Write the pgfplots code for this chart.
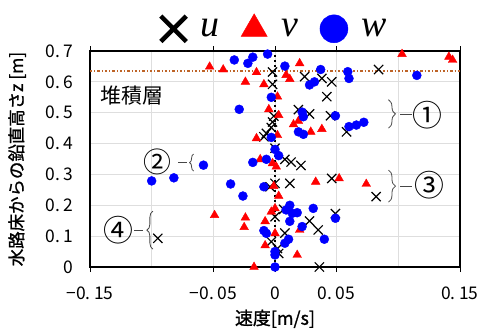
\documentclass[border=0pt]{standalone}
\usepackage{fontspec}
\usepackage{pgfplots}
\pgfplotsset{compat=1.18}
\usetikzlibrary{decorations.pathreplacing}
\newfontfamily\jp{Noto Sans CJK JP}
\newfontfamily\jpb{Noto Sans CJK JP}[FakeBold=1.2]
\newfontfamily\tms{Liberation Serif}
\definecolor{cu}{RGB}{0,0,0}
\definecolor{cv}{RGB}{255,0,0}
\definecolor{cw}{RGB}{0,0,255}
\definecolor{brn}{RGB}{190,100,40}
\definecolor{gridc}{RGB}{222,222,222}
\definecolor{anno}{RGB}{70,70,70}
\begin{document}
\begin{tikzpicture}
\useasboundingbox (-90bp,-67bp) rectangle (396bp,267bp);
\begin{axis}[
  at={(0,0)}, anchor=south west,
  width=370bp, height=216bp, scale only axis,
  xmin=-0.15, xmax=0.15, ymin=0, ymax=0.7,
  clip=false,
  axis line style={line width=1.3bp, black},
  xtick={-0.15,-0.05,0,0.05,0.15},
  xticklabels={−0.\hspace{0.2em}15,−0.\hspace{0.2em}05,0,0.\hspace{0.2em}05,0.\hspace{0.2em}15},
  minor xtick={-0.1,0.1},
  ytick={0,0.1,0.2,0.3,0.4,0.5,0.6,0.7},
  yticklabels={0,0.\hspace{0.2em}1,0.\hspace{0.2em}2,0.\hspace{0.2em}3,0.\hspace{0.2em}4,0.\hspace{0.2em}5,0.\hspace{0.2em}6,0.\hspace{0.2em}7},
  grid=both,
  major grid style={gridc, line width=0.8bp},
  minor grid style={gridc, line width=0.8bp},
  tick align=outside,
  major tick length=5bp, minor tick length=0bp,
  xtick style={black, line width=0.8bp},
  ytick style={draw=none},
  ticklabel style={font=\jp\fontsize{17.5}{17.5}\selectfont},
  xticklabel style={yshift=-11bp},
  yticklabel style={xshift=-8bp},
  xlabel={\jpb\fontsize{18}{18}\selectfont 速度[m/s]},
  ylabel={\jpb\fontsize{17.5}{17.5}\selectfont 水路床からの鉛直高さz [m]},
  xlabel style={at={(axis description cs:0.5,-0.24)}, anchor=center},
  ylabel style={at={(axis description cs:-0.197,0.5)}, anchor=center},
  legend style={at={(axis description cs:0.5,1)}, anchor=south, yshift=6bp, xshift=0bp,
    draw=none, fill=none, legend columns=3,
    font=\tms\itshape\fontsize{38}{38}\selectfont,
    /tikz/every odd column/.append style={column sep=12bp},
    /tikz/every even column/.append style={column sep=20bp}},
]
\addlegendimage{only marks, mark=x, mark size=18bp, line width=4.5bp, cu}
\addlegendentry{u}
\addlegendimage{only marks, mark=triangle*, mark size=15bp, cv, draw=cv}
\addlegendentry{v}
\addlegendimage{only marks, mark=*, mark size=14bp, cw, draw=cw}
\addlegendentry{w}

% reference line (top of sediment layer)
\addplot[forget plot, brn, line width=1.6bp, dash pattern=on 2.5bp off 2bp on 1bp off 2bp] coordinates {(-0.15,0.635) (0.15,0.635)};

% u
\addplot[forget plot, only marks, mark=x, mark size=6.5bp, line width=1.2bp, cu] coordinates {
(-0.002,0.632) (-0.002,0.592) (0.024,0.617) (0.038,0.611) (0.046,0.600) (0.042,0.552)
(0.084,0.640) (0.019,0.510) (0.028,0.496) (0.045,0.490) (0.058,0.438) (-0.001,0.489)
(-0.002,0.470) (-0.003,0.452) (-0.009,0.422) (-0.007,0.433) (0.000,0.385) (0.008,0.349)
(0.013,0.340) (0.021,0.329) (0.000,0.271) (0.012,0.271) (-0.004,0.260) (0.046,0.287)
(0.082,0.228) (0.007,0.187) (0.000,0.163) (0.028,0.149) (0.035,0.120) (0.049,0.173)
(0.008,0.110) (-0.003,0.082) (0.003,0.044) (0.002,0.060) (0.036,0.000) (-0.095,0.093)
};

% v
\addplot[forget plot, only marks, mark=triangle*, mark size=5bp, cv, draw=cv] coordinates {
(-0.053,0.649) (-0.042,0.640) (-0.015,0.631) (-0.024,0.600) (-0.009,0.592) (0.009,0.622)
(0.012,0.609) (0.020,0.660) (0.103,0.690) (0.141,0.681) (0.144,0.671) (0.002,0.552)
(-0.005,0.511) (0.003,0.492) (0.015,0.462) (0.019,0.473) (0.029,0.438) (0.038,0.447)
(-0.015,0.417) (0.002,0.427) (-0.012,0.349) (-0.002,0.336) (0.001,0.325) (0.003,0.230)
(0.000,0.190) (-0.003,0.179) (-0.049,0.168) (-0.024,0.160) (-0.025,0.129) (-0.008,0.148)
(0.000,0.109) (-0.008,0.070) (0.018,0.039) (-0.017,0.000) (0.033,0.276) (0.052,0.287)
(0.074,0.269) (0.020,0.120) (-0.001,0.262)
};

% w
\addplot[forget plot, only marks, mark=*, mark size=4.5bp, cw, draw=cw] coordinates {
(-0.033,0.671) (-0.022,0.660) (-0.018,0.680) (-0.006,0.690) (0.008,0.651) (0.037,0.640)
(0.059,0.633) (0.060,0.611) (0.028,0.590) (0.032,0.600) (0.115,0.621) (-0.003,0.550)
(-0.029,0.511) (0.022,0.502) (0.023,0.487) (0.049,0.490) (0.060,0.455) (0.066,0.460)
(0.072,0.469) (0.019,0.438) (0.023,0.430) (-0.003,0.420) (0.000,0.381) (0.003,0.361)
(-0.007,0.349) (-0.018,0.339) (-0.058,0.330) (-0.082,0.289) (-0.100,0.279) (-0.036,0.269)
(-0.026,0.230) (-0.009,0.260) (0.012,0.200) (0.014,0.174) (0.009,0.185) (0.018,0.176)
(0.012,0.148) (0.022,0.131) (-0.009,0.118) (-0.007,0.109) (0.011,0.090) (0.008,0.077)
(0.000,0.050) (0.000,0.039) (0.000,0.000) (0.031,0.190) (0.049,0.158) (0.040,0.090)
};

% zero line
\addplot[forget plot, black, line width=2bp, dash pattern=on 2bp off 3bp] coordinates {(0,0) (0,0.7)};

\node[font=\jp\fontsize{21}{21}\selectfont] at (axis cs:-0.116,0.557) {堆積層};

% annotations
\draw[anno, line width=0.8bp, decorate, decoration={brace, amplitude=7bp}] (axis cs:0.092,0.542) -- (axis cs:0.092,0.450);
\draw[anno, line width=0.8bp] (axis cs:0.1015,0.496) -- (axis cs:0.111,0.496);
\node[font=\jp\fontsize{30}{30}\selectfont, inner sep=0pt] at (axis cs:0.124,0.493) {①};

\draw[anno, line width=0.8bp, decorate, decoration={brace, amplitude=7bp}] (axis cs:0.092,0.314) -- (axis cs:0.092,0.210);
\draw[anno, line width=0.8bp] (axis cs:0.1015,0.262) -- (axis cs:0.111,0.262);
\node[font=\jp\fontsize{30}{30}\selectfont, inner sep=0pt] at (axis cs:0.125,0.265) {③};

\draw[anno, line width=0.8bp, decorate, decoration={brace, amplitude=4bp}] (axis cs:-0.066,0.311) -- (axis cs:-0.066,0.366);
\draw[anno, line width=0.8bp] (axis cs:-0.0785,0.3385) -- (axis cs:-0.0715,0.3385);
\node[font=\jp\fontsize{28}{28}\selectfont, inner sep=0pt] at (axis cs:-0.095,0.340) {②};

\draw[anno, line width=0.8bp, decorate, decoration={brace, amplitude=6bp}] (axis cs:-0.099,0.058) -- (axis cs:-0.099,0.181);
\draw[anno, line width=0.8bp] (axis cs:-0.114,0.1195) -- (axis cs:-0.107,0.1195);
\node[font=\jp\fontsize{30}{30}\selectfont, inner sep=0pt] at (axis cs:-0.127,0.120) {④};
\end{axis}
\end{tikzpicture}
\end{document}
